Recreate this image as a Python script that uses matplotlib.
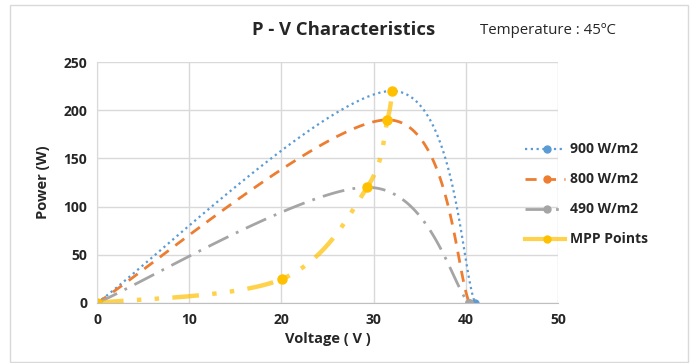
import matplotlib
matplotlib.use("Agg")
import matplotlib.pyplot as plt
import numpy as np
from matplotlib.patches import Rectangle

# Data points (Excel smoothed lines)
v_900 = [0, 32.0, 41.0]
p_900 = [0, 220, 0]
v_800 = [0, 31.5, 40.4]
p_800 = [0, 190, 0]
v_490 = [0, 29.3, 40.3]
p_490 = [0, 120, 0]
v_mpp = [0, 20.1, 29.3, 31.5, 32.0]
p_mpp = [0, 25, 120, 190, 220]

x_ticks = [0, 10, 20, 30, 40, 50]
y_ticks = [0, 50, 100, 150, 200, 250]


def smooth(xs, ys, n=60):
    # Catmull-Rom style bezier, like Excel's "smoothed line"
    pts = np.column_stack([xs, ys]).astype(float)
    pad = np.vstack([pts[0], pts, pts[-1]])
    out = []
    t = np.linspace(0, 1, n)[:, None]
    for i in range(1, len(pad) - 2):
        p0, p1, p2, p3 = pad[i - 1], pad[i], pad[i + 1], pad[i + 2]
        c1 = p1 + (p2 - p0) / 6
        c2 = p2 - (p3 - p1) / 6
        seg = ((1 - t) ** 3) * p1 + 3 * ((1 - t) ** 2) * t * c1 \
            + 3 * (1 - t) * t ** 2 * c2 + t ** 3 * p2
        out.append(seg)
    arr = np.vstack(out)
    return arr[:, 0], arr[:, 1]


plt.rcParams['font.family'] = ['Open Sans', 'DejaVu Sans']

fig = plt.figure(figsize=(6.94, 3.63), dpi=100)
ax = fig.add_axes([97 / 694, 1 - 303 / 363, (558 - 97) / 694, (303 - 62) / 363])

fig.patches.append(Rectangle((10 / 694, 1 - 362 / 363), 678 / 694, 357 / 363,
                             transform=fig.transFigure, fill=False,
                             edgecolor='#d9d9d9', linewidth=1))

blue = '#5b9bd5'
orange = '#ed7d31'
grey = '#a5a5a5'
gold = '#ffc000'

x, y = smooth(v_900, p_900)
ax.plot(x, y, color=blue, linestyle=(0, (1, 1.6)), linewidth=1.6)
ax.plot([v_900[0], v_900[-1]], [p_900[0], p_900[-1]], 'o', color=blue, markersize=5)

x, y = smooth(v_800, p_800)
ax.plot(x, y, color=orange, linestyle=(0, (4, 3)), linewidth=2)
ax.plot([v_800[0], v_800[-1]], [p_800[0], p_800[-1]], 'o', color=orange, markersize=5)

x, y = smooth(v_490, p_490)
ax.plot(x, y, color=grey, linestyle=(0, (8, 3, 1, 3)), linewidth=2)
ax.plot([v_490[0], v_490[-1]], [p_490[0], p_490[-1]], 'o', color=grey, markersize=5.5)

x, y = smooth(v_mpp, p_mpp)
ax.plot(x, y, color=gold, alpha=0.7, linestyle=(0, (6, 3, 1, 3, 1, 3)), linewidth=3.2)
ax.plot(v_mpp, p_mpp, 'o', color=gold, markersize=6.5)

ax.set_xlim(0, 50)
ax.set_ylim(0, 250)
ax.set_xticks(x_ticks)
ax.set_yticks(y_ticks)
ax.grid(True, color='#d9d9d9', linewidth=1)
ax.set_axisbelow(True)
for s in ['top', 'right']:
    ax.spines[s].set_visible(False)
ax.spines['left'].set_color('#d9d9d9')
ax.spines['bottom'].set_color('#bfbfbf')
ax.tick_params(length=0, pad=7, labelsize=10, colors='#262626')
for lab in ax.get_xticklabels() + ax.get_yticklabels():
    lab.set_fontweight('bold')
ax.set_xlabel('Voltage ( V )', fontsize=10.5, fontweight='bold', color='#262626', labelpad=4)
ax.set_ylabel('Power (W)', fontsize=10.5, fontweight='bold', color='#262626', labelpad=10)

fig.text(344 / 694, 1 - 30 / 363, 'P - V Characteristics', ha='center', va='center',
         fontsize=13.3, fontweight='bold', color='#262626')
fig.text(480 / 694, 1 - 30 / 363, 'Temperature : 45ºC', ha='left', va='center',
         fontsize=10.8, color='#262626')

# legend drawn by hand in figure coordinates
legend = [
    ('900 W/m2', blue, (0, (1, 1.6)), 1.6, 1.0),
    ('800 W/m2', orange, (0, (4, 3)), 2, 1.0),
    ('490 W/m2', grey, (0, (8, 3, 1, 3)), 2, 1.0),
    ('MPP Points', gold, '-', 3, 0.7),
]
for i, (name, col, ls, lw, a) in enumerate(legend):
    ypix = 149 + i * 30
    yf = 1 - ypix / 363
    fig.lines.append(plt.Line2D([525 / 694, 565 / 694], [yf, yf], transform=fig.transFigure,
                                color=col, linestyle=ls, linewidth=lw, alpha=a))
    fig.lines.append(plt.Line2D([547 / 694], [yf], transform=fig.transFigure,
                                color=col, marker='o', markersize=5, linestyle='none'))
    fig.text(570 / 694, yf, name, ha='left', va='center', fontsize=10,
             fontweight='bold', color='#262626')

fig.savefig('out.png', dpi=100)
